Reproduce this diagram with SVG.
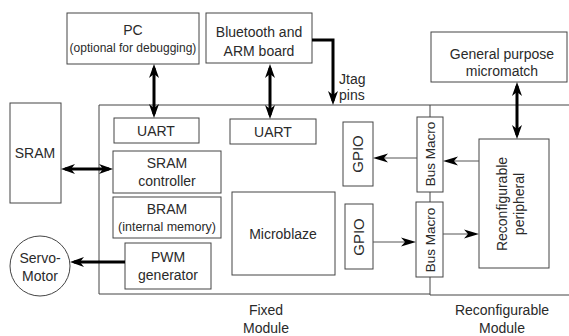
<svg xmlns="http://www.w3.org/2000/svg" width="569" height="336" viewBox="0 0 569 336">
<style>
text{font-family:"Liberation Sans",Arial,sans-serif;font-size:14px;fill:#2a2a2a;text-anchor:middle}
.sm{font-size:12px}
.bm{font-size:13.5px}
.box{fill:#fff;stroke:#444;stroke-width:1}
.mod{fill:none;stroke:#444;stroke-width:1}
.thick{fill:none;stroke:#000;stroke-width:3}
.thin{fill:none;stroke:#555;stroke-width:1}
</style>
<defs>
<marker id="ah" markerUnits="userSpaceOnUse" markerWidth="14" markerHeight="10" refX="10" refY="5" orient="auto-start-reverse" overflow="visible">
<path d="M0,0 L14,5 L0,10 L4,5 Z" fill="#000"/>
</marker>
<marker id="as" markerUnits="userSpaceOnUse" markerWidth="15" markerHeight="9" refX="12" refY="4.5" orient="auto" overflow="visible">
<path d="M0,0 L15,4.5 L0,9 L4,4.5 Z" fill="#000"/>
</marker>
</defs>
<rect width="569" height="336" fill="#fff"/>

<g id="modules">
<path class="mod" d="M99,294 V105 H569"/>
<path class="mod" d="M99,294 H430 M430,295 H569"/>
<path class="mod" d="M430,105 V295"/>
<text x="266" y="315">Fixed</text>
<text x="266" y="333">Module</text>
<text x="502" y="315">Reconfigurable</text>
<text x="502" y="333">Module</text>
</g>

<g id="pc">
<rect class="box" x="67" y="13" width="132" height="51"/>
<text x="133" y="35">PC</text>
<text class="sm" x="133" y="52">(optional for debugging)</text>
</g>

<g id="bluetooth">
<rect class="box" x="206" y="13" width="106" height="50"/>
<text x="259" y="37">Bluetooth and</text>
<text x="259" y="56">ARM board</text>
</g>

<g id="micromatch">
<rect class="box" x="431" y="32" width="136" height="50"/>
<text x="502" y="59">General purpose</text>
<text x="502" y="76">micromatch</text>
</g>

<g id="sram">
<rect class="box" x="10" y="103" width="51" height="100"/>
<text x="35" y="158">SRAM</text>
</g>

<g id="servo">
<circle cx="40" cy="266" r="30" fill="#fff" stroke="#444"/>
<text x="40" y="263">Servo-</text>
<text x="40" y="281">Motor</text>
</g>

<g id="uart1">
<rect class="box" x="114" y="118" width="85" height="25"/>
<text x="156" y="136">UART</text>
</g>

<g id="uart2">
<rect class="box" x="230" y="119" width="86" height="25"/>
<text x="273" y="137">UART</text>
</g>

<g id="sram-controller">
<rect class="box" x="113" y="151" width="108" height="42"/>
<text x="167" y="168">SRAM</text>
<text x="167" y="186">controller</text>
</g>

<g id="bram">
<rect class="box" x="113" y="197" width="108" height="41"/>
<text x="167" y="214">BRAM</text>
<text x="167" y="231" style="font-size:12.5px">(internal memory)</text>
</g>

<g id="pwm">
<rect class="box" x="125" y="243" width="86" height="46"/>
<text x="168" y="262">PWM</text>
<text x="168" y="280">generator</text>
</g>

<g id="microblaze">
<rect class="box" x="232" y="192" width="103" height="83"/>
<text x="283" y="239">Microblaze</text>
</g>

<g id="gpio1">
<rect class="box" x="343" y="122" width="30" height="64"/>
<text transform="translate(363,154) rotate(-90)" style="font-size:15px">GPIO</text>
</g>

<g id="gpio2">
<rect class="box" x="345" y="204" width="28" height="65"/>
<text transform="translate(364,237) rotate(-90)" style="font-size:15px">GPIO</text>
</g>

<g id="busmacro1">
<rect class="box" x="417" y="117" width="26" height="75"/>
<text class="bm" transform="translate(435,154) rotate(-90)">Bus Macro</text>
</g>

<g id="busmacro2">
<rect class="box" x="416" y="202" width="27" height="75"/>
<text class="bm" transform="translate(434.5,240) rotate(-90)">Bus Macro</text>
</g>

<g id="reconfig">
<rect class="box" x="479" y="139" width="70" height="129"/>
<text transform="translate(507,204) rotate(-90)">Reconfigurable</text>
<text transform="translate(524,204) rotate(-90)">peripheral</text>
</g>

<g id="connectors">
<line class="thick" x1="154" y1="68" x2="154" y2="114" marker-start="url(#ah)" marker-end="url(#ah)"/>
<line class="thick" x1="270" y1="68" x2="270" y2="115" marker-start="url(#ah)" marker-end="url(#ah)"/>
<path class="thick" d="M312,40 H333 V101" marker-end="url(#ah)"/>
<line class="thick" x1="65" y1="169" x2="109" y2="169" marker-start="url(#ah)" marker-end="url(#ah)"/>
<line class="thick" x1="125" y1="262" x2="74" y2="262" marker-end="url(#ah)"/>
<line class="thick" x1="517" y1="86" x2="517" y2="135" marker-start="url(#ah)" marker-end="url(#ah)"/>
<line class="thin" x1="479" y1="161" x2="446" y2="161" marker-end="url(#as)"/>
<line class="thin" x1="417" y1="158" x2="376" y2="158" marker-end="url(#as)"/>
<line class="thin" x1="373" y1="242" x2="413" y2="242" marker-end="url(#as)"/>
<line class="thin" x1="443" y1="234" x2="476" y2="234" marker-end="url(#as)"/>
<text x="339" y="84" style="text-anchor:start">Jtag</text>
<text x="339" y="100" style="text-anchor:start">pins</text>
</g>
</svg>
